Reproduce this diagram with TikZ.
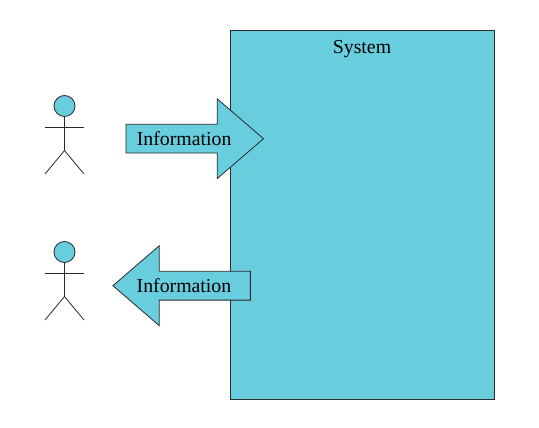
\documentclass[tikz,border=0pt]{standalone}
\usepackage{fontspec}
\setmainfont{Liberation Serif}
\usetikzlibrary{shapes.arrows}
\definecolor{boxcyan}{HTML}{68CEDE}
\definecolor{linegray}{HTML}{2A2A2A}
\tikzset{
    sysbox/.style={draw=linegray,fill=boxcyan,line width=0.8pt,minimum width=264pt,minimum height=369.5pt},
    infoarrow/.style={single arrow,draw=linegray,fill=boxcyan,line width=0.8pt,font=\fontsize{19.8}{22}\selectfont,
        text height=14pt,text depth=1pt,inner xsep=0pt,inner ysep=6.5pt,single arrow tip angle=81.5,
        single arrow head extend=25.5pt,minimum height=137.5pt},
    actorhead/.style={circle,draw=linegray,fill=boxcyan,line width=0.8pt,minimum size=21pt,inner sep=0pt},
    actorline/.style={draw=linegray,line width=0.8pt}
}

\begin{document}
\begin{tikzpicture}[x=1pt,y=-1pt]
    \useasboundingbox (0,0) rectangle (539,428);
    %system box
    \node[sysbox] (system) at (362.5,214.75) {};
    \node[font=\fontsize{19.8}{22}\selectfont] (systitle) at (362,49.5) {System};
    %actors
    \foreach \n/\y in {1/106, 2/252} {
        \node[actorhead] (head\n) at (64.5,\y) {};
        \coordinate (armL\n) at (45,\y+21.5);
        \coordinate (armR\n) at (84,\y+21.5);
        \coordinate (hip\n) at (64.5,\y+44.5);
        \coordinate (legL\n) at (45,\y+68);
        \coordinate (legR\n) at (84,\y+68);
        \draw[actorline] (head\n) -- (hip\n);
        \draw[actorline] (armL\n) -- (armR\n);
        \draw[actorline] (legL\n) -- (hip\n) -- (legR\n);
    }
    %arrows to and from the system
    \node[infoarrow] (infoin) at (186.4,138.7) {Information\kern4.5pt};
    \node[infoarrow,shape border rotate=180] (infoout) at (190,285.7) {\kern-12pt Information};
\end{tikzpicture}
\end{document}
